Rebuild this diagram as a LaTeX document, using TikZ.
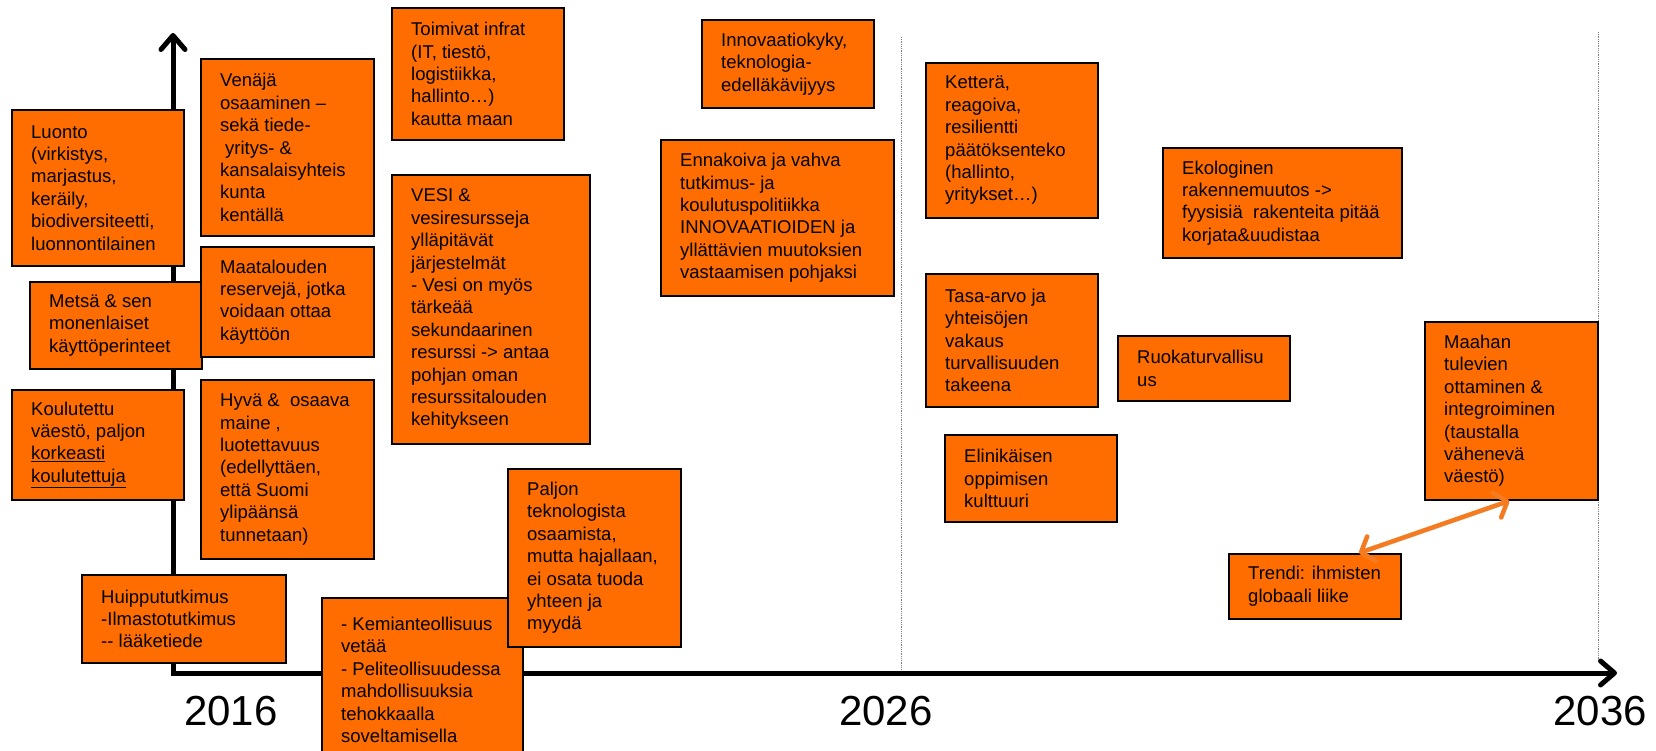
\documentclass[tikz,border=0pt]{standalone}
\usepackage{fontspec}
\setmainfont{Liberation Sans}
\usetikzlibrary{arrows.meta}
\usetikzlibrary{positioning}
\definecolor{NoteOrange}{HTML}{FF6D00}
\definecolor{TrendOrange}{HTML}{F47B20}
\tikzset{
  note/.style={draw=black, line width=1.8pt, fill=NoteOrange, anchor=north west, inner sep=0pt},
  notetext/.style={anchor=west, align=left, inner sep=0pt, font=\fontsize{18.5}{22.4}\selectfont},
  axisline/.style={line width=5pt, line join=miter},
  yearline/.style={gray, densely dotted, line width=0.8pt},
  year/.style={anchor=base, inner sep=0pt, font=\fontsize{42}{50}\selectfont},
  trend/.style={TrendOrange, line width=4.5pt, line cap=round,
    {Straight Barb[length=11pt,width=26pt,round]}-{Straight Barb[length=11pt,width=26pt,round]},
    preaction={draw=black!30, opacity=.5, transform canvas={shift={(1.5pt,-2pt)}}}},
}
\newcommand{\notebox}[6]{%
  \node[note, minimum width=#4pt, minimum height=#5pt] (#1) at (#2,#3) {};
  \node[notetext] (#1-txt) at ([xshift=20pt]#1.west) {#6};
}

\begin{document}
\begin{tikzpicture}[x=1pt, y=-1pt]
  \useasboundingbox (0,0) rectangle (1656,751);
  \clip (0,0) rectangle (1656,751);

  \coordinate (origin) at (173,673);
  \coordinate (ytop)   at (173,33);
  \coordinate (xend)   at (1617,673);

  % ten year marks
  \coordinate (mid)    at (901,37);
  \coordinate (midb)   at (901,673);
  \coordinate (last)   at (1598,32);
  \coordinate (lastb)  at (1598,660);
  \draw[yearline] (mid) -- (midb);
  \draw[yearline] (last) -- (lastb);

  \draw[axisline, {Straight Barb[length=14pt,width=24pt,round]}-{Straight Barb[length=14pt,width=24pt,round]}]
    (ytop) -- (origin) -- (xend);

  \foreach \yr/\xx in {2016/231, 2026/886, 2036/1600}{%
    \node[year] (y\yr) at (\xx,725) {\yr};
  }

  \notebox{luonto}{11}{109}{172}{156}{Luonto\\(virkistys,\\marjastus,\\keräily,\\biodiversiteetti,\\luonnontilainen}
  \notebox{metsa}{29}{281}{172}{87}{Metsä \& sen\\monenlaiset\\käyttöperinteet}
  \notebox{koulutettu}{11}{389}{172}{110}{Koulutettu\\väestö, paljon\\\underline{korkeasti}\\\underline{koulutettuja}}
  \notebox{huippu}{81}{574}{204}{88}{Huippututkimus\\-Ilmastotutkimus\\-{}- lääketiede}
  \notebox{venaja}{200}{58}{173}{177}{Venäjä\\osaaminen –\\sekä tiede-\\\hspace*{5pt}yritys- \&\\kansalaisyhteis\\kunta\\kentällä}
  \notebox{maatalous}{200}{246}{173}{110}{Maatalouden\\reservejä, jotka\\voidaan ottaa\\käyttöön}
  \notebox{hyva}{200}{379}{173}{179}{Hyvä \&~ osaava\\maine ,\\luotettavuus\\(edellyttäen,\\että Suomi\\ylipäänsä\\tunnetaan)}
  \notebox{toimivat}{391}{7}{172}{132}{Toimivat infrat\\(IT, tiestö,\\logistiikka,\\hallinto…)\\kautta maan}
  \notebox{vesi}{391}{174}{198}{269}{VESI \&\\vesiresursseja\\ylläpitävät\\järjestelmät\\- Vesi on myös\\tärkeää\\sekundaarinen\\resurssi -> antaa\\pohjan oman\\resurssitalouden\\kehitykseen}
  \notebox{kemia}{321}{597}{201}{164}{- Kemianteollisuus\\vetää\\- Peliteollisuudessa\\mahdollisuuksia\\tehokkaalla\\soveltamisella}
  \notebox{paljon}{507}{468}{173}{178}{Paljon\\teknologista\\osaamista,\\mutta hajallaan,\\ei osata tuoda\\yhteen ja\\myydä}
  \notebox{innovaatio}{701}{19}{172}{88}{Innovaatiokyky,\\teknologia-\\edelläkävijyys}
  \notebox{ennakoiva}{660}{139}{233}{156}{Ennakoiva ja vahva\\tutkimus- ja\\koulutuspolitiikka\\INNOVAATIOIDEN ja\\yllättävien muutoksien\\vastaamisen pohjaksi}
  \notebox{kettera}{925}{62}{172}{155}{Ketterä,\\reagoiva,\\resilientti\\päätöksenteko\\(hallinto,\\yritykset…)}
  \notebox{tasaarvo}{925}{273}{172}{133}{Tasa-arvo ja\\yhteisöjen\\vakaus\\turvallisuuden\\takeena}
  \notebox{elinikainen}{944}{434}{172}{87}{Elinikäisen\\oppimisen\\kulttuuri}
  \notebox{ekologinen}{1162}{147}{239}{110}{Ekologinen\\rakennemuutos ->\\fyysisiä~ rakenteita pitää\\korjata\&uudistaa}
  \notebox{ruoka}{1117}{335}{172}{65}{Ruokaturvallisu\\us}
  \notebox{maahan}{1424}{321}{173}{178}{Maahan\\tulevien\\ottaminen \&\\integroiminen\\(taustalla\\vähenevä\\väestö)}
  \notebox{trendi}{1228}{553}{172}{65}{Trendi: ihmisten\\globaali liike}

  \draw[trend] ([xshift=-2pt]maahan.south) -- ([xshift=44pt]trendi.north);
\end{tikzpicture}
\end{document}
